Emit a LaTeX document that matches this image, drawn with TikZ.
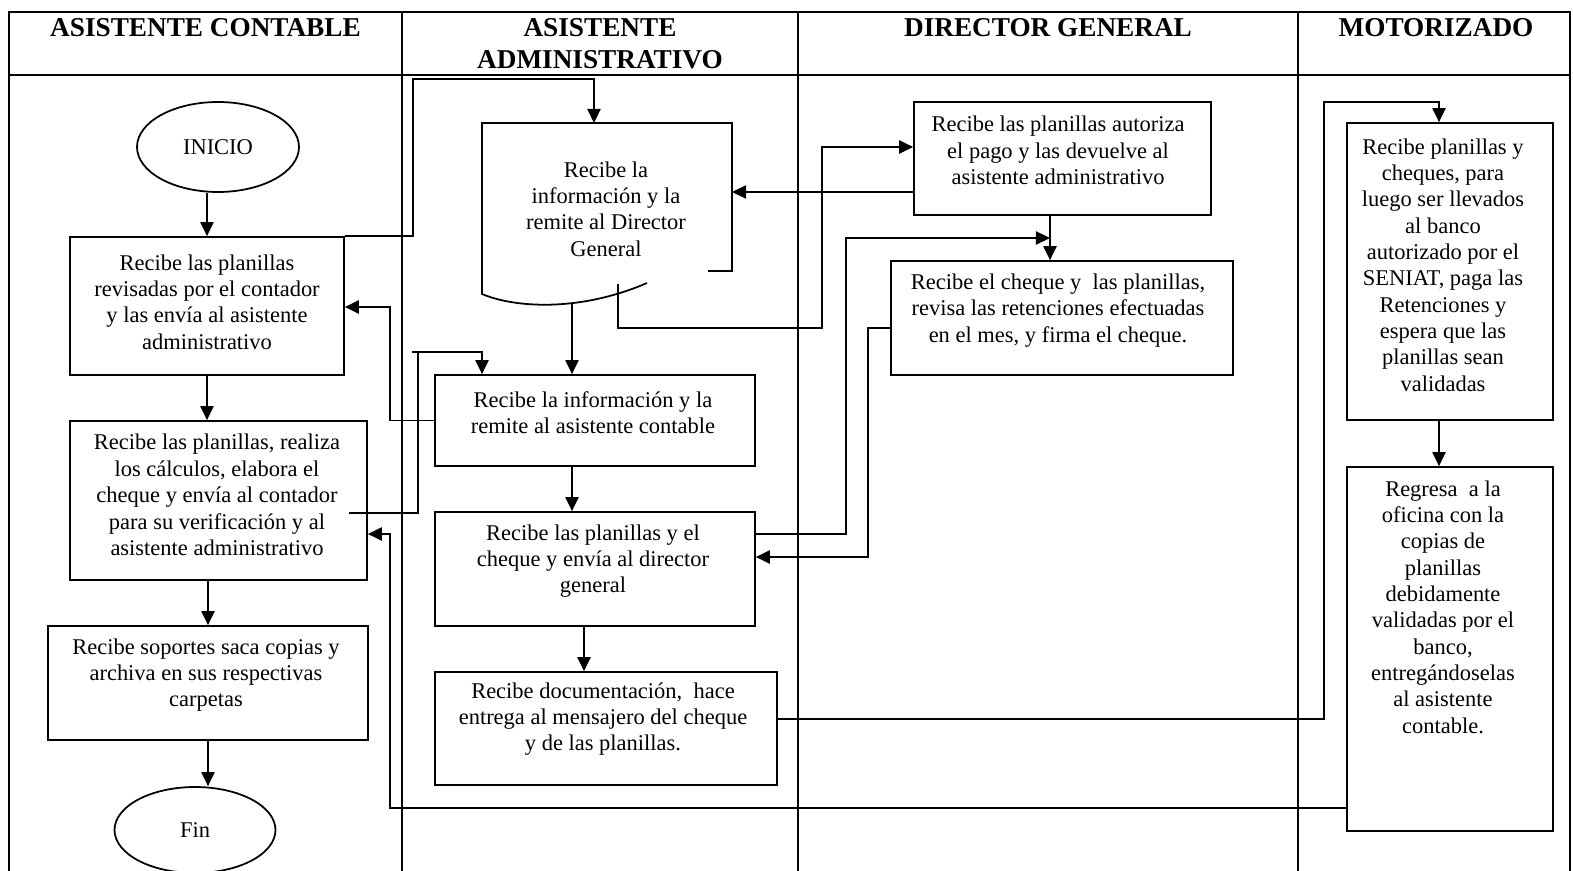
\documentclass[tikz,border=0pt]{standalone}
\usepackage{fontspec}
\setmainfont{Liberation Serif}
\usetikzlibrary{arrows.meta,shapes.geometric}

\begin{document}
\begin{tikzpicture}[x=0.02cm,y=-0.02cm,line width=1pt,
  box/.style={draw,rectangle,inner sep=0pt},
  oval/.style={draw,ellipse,inner sep=0pt,font=\fontsize{12.8}{15}\selectfont},
  txt/.style={align=center,inner sep=0pt,font=\fontsize{12.8}{15}\selectfont},
  head/.style={anchor=base,inner sep=0pt,font=\fontsize{15.5}{18}\selectfont\bfseries},
  flow/.style={-{Triangle[length=8pt,width=7.5pt]}}]

\clip (0,0) rectangle (1573,871);

% swimlane frame
\draw (9,880) -- (9,12) -- (1570,12) -- (1570,880);
\draw (9,75) -- (1570,75);
\foreach \lx in {402,798,1298} \draw (\lx,12) -- (\lx,880);

\node[head] (h1) at (205.5,36.5) {ASISTENTE CONTABLE};
\node[head] (h2a) at (600,36.5) {ASISTENTE};
\node[head] (h2b) at (600,68.5) {ADMINISTRATIVO};
\node[head] (h3) at (1048,36.5) {DIRECTOR GENERAL};
\node[head] (h4) at (1436,36.5) {MOTORIZADO};

% asistente contable
\node[oval,minimum width=3.24cm,minimum height=1.80cm] (ini) at (218,147) {INICIO};
\node[box,minimum width=5.48cm,minimum height=2.76cm] (a1) at (207,306) {};
\node[txt] (ta1) at (207,302) {Recibe las planillas\\revisadas por el contador\\y las envía al asistente\\administrativo};
\node[box,minimum width=5.94cm,minimum height=3.18cm] (a2) at (218.5,500.5) {};
\node[txt] (ta2) at (217,495) {Recibe las planillas, realiza\\los cálculos, elabora el\\cheque y envía al contador\\para su verificación y al\\asistente administrativo};
\node[box,minimum width=6.40cm,minimum height=2.28cm] (a3) at (208,683) {};
\node[txt] (ta3) at (206,675) {Recibe soportes saca copias y\\archiva en sus respectivas\\carpetas};
\node[oval,minimum width=3.22cm,minimum height=1.72cm] (fin) at (195,830) {Fin};

% asistente administrativo
\draw (708,271) -- (732,271) -- (732,123) -- (482,123) -- (482,294)
  .. controls (515,308) and (580,312) .. (647,283);
\coordinate (b1in) at (594,123);
\coordinate (b1out) at (572,304);
\coordinate (b1side) at (618,284);
\coordinate (b1r) at (732,192);
\node[txt] (tb1) at (606,209) {Recibe la\\información y la\\remite al Director\\General};
\node[box,minimum width=6.40cm,minimum height=1.82cm] (b2) at (595,420.5) {};
\node[txt] (tb2) at (593,413) {Recibe la información y la\\remite al asistente contable};
\node[box,minimum width=6.40cm,minimum height=2.28cm] (b3) at (595,569) {};
\node[txt] (tb3) at (593,561) {Recibe las planillas y el\\cheque y envía al director\\general};
\node[box,minimum width=6.84cm,minimum height=2.26cm] (b4) at (606,728.5) {};
\node[txt] (tb4) at (603,719) {Recibe documentación,\ \ hace\\entrega al mensajero del cheque\\y de las planillas.};

% director general
\node[box,minimum width=5.94cm,minimum height=2.26cm] (c1) at (1062.5,158.5) {};
\node[txt] (tc1) at (1058,150.5) {Recibe las planillas autoriza\\el pago y las devuelve al\\asistente administrativo};
\node[box,minimum width=6.84cm,minimum height=2.28cm] (c2) at (1062,318) {};
\node[txt] (tc2) at (1058,310.5) {Recibe el cheque y\ \ las planillas,\\revisa las retenciones efectuadas\\en el mes, y firma el cheque.};
\coordinate (jc) at (1050,238);

% motorizado
\node[box,minimum width=4.12cm,minimum height=5.94cm] (d1) at (1450,271.5) {};
\node[txt] (td1) at (1443,265) {Recibe planillas y\\cheques, para\\luego ser llevados\\al banco\\autorizado por el\\SENIAT, paga las\\Retenciones y\\espera que las\\planillas sean\\validadas};
\node[box,minimum width=4.12cm,minimum height=7.28cm] (d2) at (1450,649) {};
\node[txt] (td2) at (1443,607) {Regresa\ \ a la\\oficina con la\\copias de\\planillas\\debidamente\\validadas por el\\banco,\\entregándoselas\\al asistente\\contable.};

% flow connectors
\coordinate (a2tail) at (349,513);
\coordinate (b2stub) at (412,352);
\draw[flow] (ini.south -| a1.north) -- (a1.north);
\draw[flow] (a1.south) -- (a1.south |- a2.north);
\draw[flow] (a2.south -| a3.north) -- (a3.north);
\draw[flow] (a3.south) -- (a3.south |- fin.north);
\draw[flow] (a1.north east) -| (413,79) -| (b1in);
\draw[flow] (b1out) -- (b1out |- b2.north);
\draw[flow] (b2.west) -| (390,307) -- (a1.east |- 390,307);
\draw (a2tail) -| (418,352);
\draw[flow] (b2stub) -| (b2.north -| 482,0);
\draw[flow] (b2.south -| b1out) -- (b3.north -| b1out);
\draw[flow] (b3.east |- 0,534) -| (846,238) -- (jc);
\draw[flow] (c1.south -| jc) -- (c2.north -| jc);
\draw[flow] (c2.west |- 0,328) -| (868,557) -- (b3.east |- 0,557);
\draw[flow] (c1.west |- b1r) -- (b1r);
\draw[flow] (b1side) |- (822,328) |- (c1.west |- 0,147);
\draw[flow] (b3.south -| 584,0) -- (b4.north -| 584,0);
\draw[flow] (b4.east |- 0,719) -| (1324,102) -| (d1.north -| 1439,0);
\draw[flow] (d1.south -| 1439,0) -- (d2.north -| 1439,0);
\draw[flow] (d2.west |- 0,808) -| (390,534) -- (a2.east |- 0,534);
\end{tikzpicture}
\end{document}
